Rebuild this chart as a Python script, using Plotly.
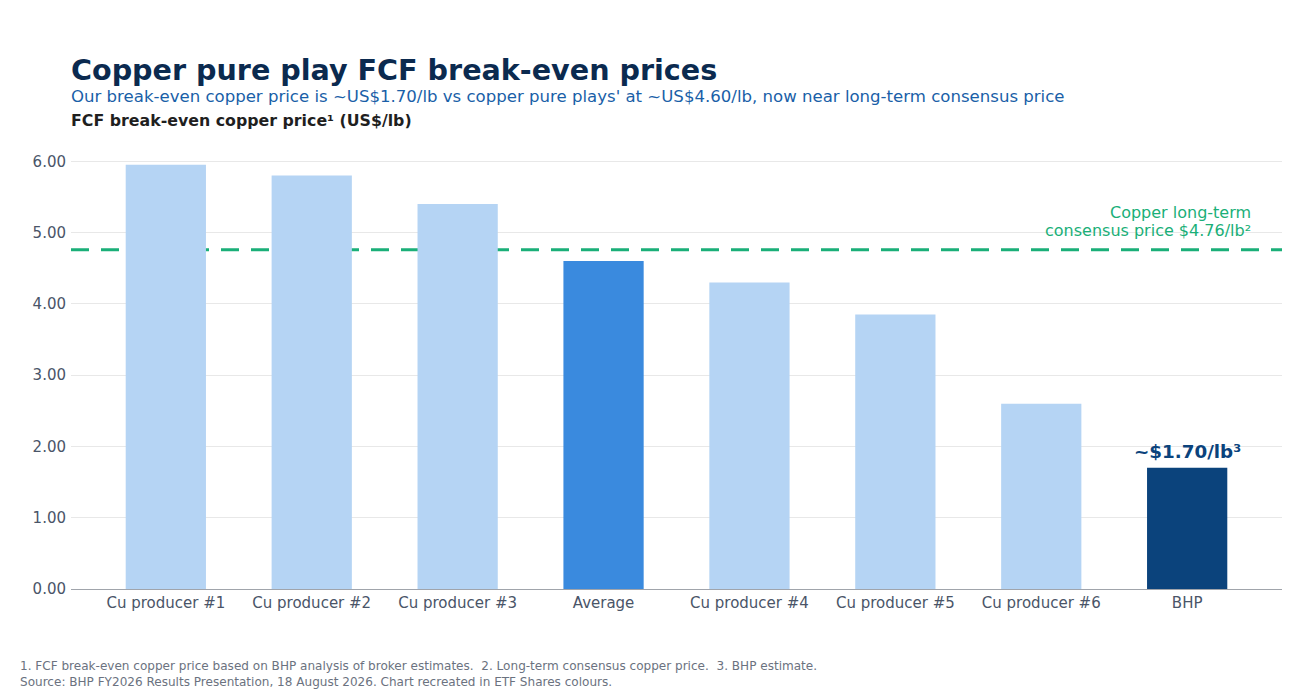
import plotly.graph_objects as go

categories = ["Cu producer #1", "Cu producer #2", "Cu producer #3", "Average",
              "Cu producer #4", "Cu producer #5", "Cu producer #6", "BHP"]
breakeven = [5.95, 5.80, 5.40, 4.60, 4.30, 3.85, 2.60, 1.70]
consensus_price = 4.76
y_ticks = [0, 1, 2, 3, 4, 5, 6]

light = "#b5d4f4"
colors = [light] * len(categories)
colors[categories.index("Average")] = "#3a8ade"
colors[categories.index("BHP")] = "#0b437c"
green = "#1aaf78"
font = "DejaVu Sans"

fig = go.Figure()
fig.add_trace(go.Bar(
    x=categories,
    y=breakeven,
    marker=dict(color=colors, line=dict(width=0)),
    hoverinfo="x+y",
    showlegend=False,
))

# consensus line sits behind the bars
fig.add_shape(
    type="line", xref="paper", yref="y", layer="below",
    x0=0, x1=1, y0=consensus_price, y1=consensus_price,
    line=dict(color=green, width=3, dash="18px,12px"),
)

# label lines placed one by one for a tighter line spacing
label_lines = ["Copper long-term", "consensus price $%.2f/lb²" % consensus_price]
for i, line in enumerate(label_lines):
    fig.add_annotation(
        xref="paper", yref="y", x=0.976, y=consensus_price,
        xanchor="right", yanchor="middle",
        yshift=19 + 18 * (len(label_lines) - 1 - i),
        text=line, showarrow=False,
        font=dict(family=font, size=16, color=green),
    )

fig.add_annotation(
    x="BHP", y=breakeven[-1], yanchor="bottom", yshift=4,
    text="<b>~$%.2f/lb³</b>" % breakeven[-1],
    showarrow=False, font=dict(family=font, size=18.3, color="#0b437c"),
)

# headings
fig.add_annotation(
    xref="paper", yref="paper", x=0, y=1, xanchor="left", yanchor="bottom",
    xshift=-2, yshift=58, text="<b>Copper pure play FCF break-even prices</b>",
    showarrow=False, font=dict(family=font, size=28.6, color="#0b2a4f"),
)
fig.add_annotation(
    xref="paper", yref="paper", x=0, y=1, xanchor="left", yanchor="bottom",
    xshift=-2, yshift=39,
    text="Our break-even copper price is ~US$1.70/lb vs copper pure plays' at "
         "~US$4.60/lb, now near long-term consensus price",
    showarrow=False, font=dict(family=font, size=16.57, color="#1a5fa8"),
)
fig.add_annotation(
    xref="paper", yref="paper", x=0, y=1, xanchor="left", yanchor="bottom",
    xshift=-2, yshift=15, text="<b>FCF break-even copper price¹ (US$/lb)</b>",
    showarrow=False, font=dict(family=font, size=15.8, color="#1f1f1f"),
)

# footnotes
fig.add_annotation(
    xref="paper", yref="paper", x=-0.042, y=0, xanchor="left", yanchor="top",
    xshift=-2, yshift=-68, align="left",
    text="1. FCF break-even copper price based on BHP analysis of broker estimates.  "
         "2. Long-term consensus copper price.  3. BHP estimate.<br>"
         "Source: BHP FY2026 Results Presentation, 18 August 2026. "
         "Chart recreated in ETF Shares colours.",
    showarrow=False, font=dict(family=font, size=12.06, color="#6b7280"),
)

fig.update_layout(
    width=1302, height=694,
    margin=dict(l=63, r=28, t=139, b=113),
    plot_bgcolor="white", paper_bgcolor="white",
    bargap=0.45,
    font=dict(family=font, size=15, color="#4a5568"),
    xaxis=dict(
        range=[-0.65, len(categories) - 0.35],
        showline=True, linecolor="#a0a4ab", linewidth=1,
        ticks="", tickfont=dict(size=15, color="#4a5568"),
    ),
    yaxis=dict(
        range=[0, 6.2], tickvals=y_ticks,
        ticktext=["%.2f" % v for v in y_ticks],
        gridcolor="#e8e8e8", zeroline=False,
        ticklabelstandoff=4,
        tickfont=dict(size=15, color="#4a5568"),
    ),
)

fig.write_html("out.html")
